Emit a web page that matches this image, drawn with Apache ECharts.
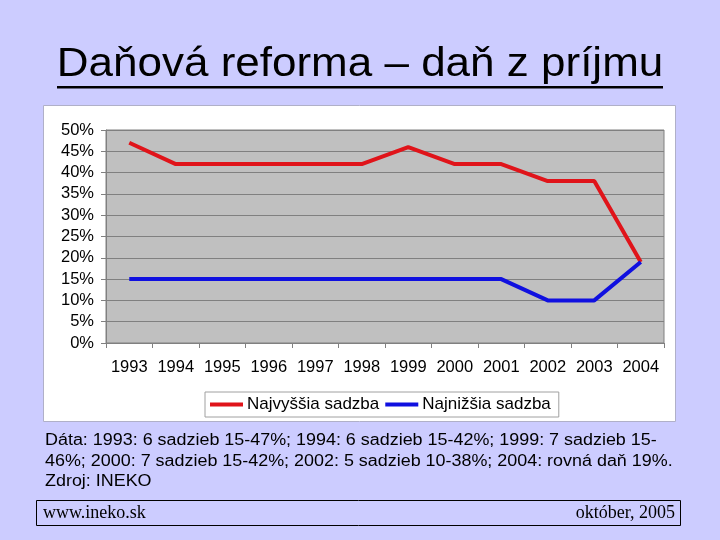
<!DOCTYPE html>
<html><head><meta charset="utf-8">
<script src="https://cdn.jsdelivr.net/npm/echarts@6/dist/echarts.min.js"></script>
<style>html,body{margin:0;padding:0;background:#ccccff;}#c{width:720px;height:540px;}</style>
</head><body><div id="c"></div>
<script>
const years = ['1993','1994','1995','1996','1997','1998','1999','2000','2001','2002','2003','2004'];
const highest = [47, 42, 42, 42, 42, 42, 46, 42, 42, 38, 38, 19];
const lowest = [15, 15, 15, 15, 15, 15, 15, 15, 15, 10, 10, 19];
const seriesNames = ['Najvyššia sadzba', 'Najnižšia sadzba'];
const titleText = 'Daňová reforma – daň z príjmu';
const noteLines = [
  'Dáta: 1993: 6 sadzieb 15-47%; 1994: 6 sadzieb 15-42%; 1999: 7 sadzieb 15-',
  '46%; 2000: 7 sadzieb 15-42%; 2002: 5 sadzieb 10-38%; 2004: rovná daň 19%.',
  'Zdroj: INEKO'
];
const footerLeft = 'www.ineko.sk';
const footerRight = 'október, 2005';

const F = '"Liberation Sans", Arial, sans-serif';
const S = '"Liberation Serif", "Times New Roman", serif';
const chart = echarts.init(document.getElementById('c'));
chart.setOption({
  backgroundColor: '#ccccff',
  animation: false,
  graphic: [
    {type:'rect', z:-10, shape:{x:43.5,y:105.5,width:632,height:316}, style:{fill:'#ffffff', stroke:'#b0b0c8', lineWidth:1}},
    {type:'text', x:360, y:45, scaleX:1.1, style:{text:titleText, font:'40px ' + F, fill:'#000', textAlign:'center', textVerticalAlign:'top'}},
    {type:'rect', shape:{x:57,y:86,width:606,height:2.5}, style:{fill:'#000'}},
    {type:'text', x:45, y:430, scaleX:1.12, style:{text:noteLines.join('\n'), font:'16px ' + F, lineHeight:20.8, fill:'#000', textAlign:'left', textVerticalAlign:'top'}},
    {type:'rect', shape:{x:36.5,y:500.5,width:644,height:25}, style:{fill:'none', stroke:'#000', lineWidth:1}},
    {type:'text', x:43, y:513, style:{text:footerLeft, font:'18px ' + S, fill:'#000', textAlign:'left', textVerticalAlign:'middle'}},
    {type:'text', x:675, y:513, style:{text:footerRight, font:'18px ' + S, fill:'#000', textAlign:'right', textVerticalAlign:'middle'}}
  ],
  grid: {left:106, right:56, top:130, bottom:197, show:true, backgroundColor:'#c0c0c0', borderColor:'#808080', borderWidth:1},
  legend: {
    top: 392, left: 205,
    data: seriesNames,
    icon: 'rect', itemWidth: 33, itemHeight: 4, itemGap: 6,
    backgroundColor: '#ffffff', borderColor: '#a0a0a0', borderWidth: 1,
    padding: [4, 8, 4, 5],
    textStyle: {fontFamily: F, fontSize: 17, color: '#000', padding: [0, 0, 0, -1]}
  },
  xAxis: {
    type: 'category', data: years, boundaryGap: true,
    axisLine: {lineStyle:{color:'#808080'}},
    axisTick: {show:true, alignWithLabel:false, length:5, lineStyle:{color:'#808080'}},
    axisLabel: {fontFamily: F, fontSize: 16.5, color:'#000', margin: 16, interval: 0},
    splitLine: {show:false}
  },
  yAxis: {
    type: 'value', min: 0, max: 50, interval: 5,
    axisLine: {show:true, lineStyle:{color:'#808080'}},
    axisTick: {show:true, length:5, lineStyle:{color:'#808080'}},
    axisLabel: {fontFamily: F, fontSize: 16.5, color:'#000', margin: 12, formatter: v => v + '%'},
    splitLine: {show:true, lineStyle:{color:'#808080', width:1}}
  },
  series: [
    {name: seriesNames[0], type:'line', data: highest, symbol:'none', lineStyle:{color:'#e0141a', width:4}, itemStyle:{color:'#e0141a'}},
    {name: seriesNames[1], type:'line', data: lowest, symbol:'none', lineStyle:{color:'#1010e0', width:4}, itemStyle:{color:'#1010e0'}}
  ]
});
</script></body></html>
